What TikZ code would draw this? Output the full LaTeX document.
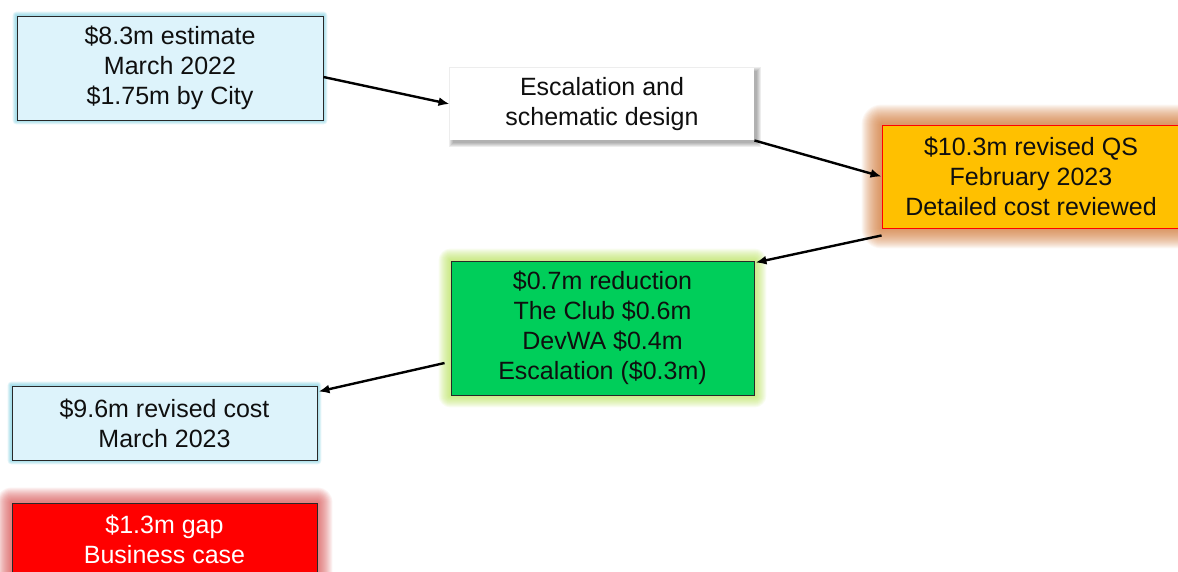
\documentclass[tikz,border=0pt]{standalone}
\usepackage{fontspec}
\setmainfont{Liberation Sans}
\usetikzlibrary{calc,backgrounds,arrows.meta}
\definecolor{lblue}{RGB}{221,243,251}
\definecolor{qsorange}{RGB}{255,192,0}
\definecolor{rgreen}{RGB}{0,206,90}
\definecolor{gapred}{RGB}{255,0,0}
\definecolor{boxline}{RGB}{40,40,40}
\definecolor{txt}{RGB}{15,15,15}
\definecolor{glowcyan}{RGB}{70,185,210}
\definecolor{gloworange}{RGB}{205,110,40}
\definecolor{glowgreen}{RGB}{175,222,70}
\definecolor{glowred}{RGB}{210,60,60}
\tikzset{
  stagebox/.style={rectangle, inner sep=0pt, align=center, text=txt,
    font=\fontsize{25}{30}\selectfont, line width=0.9pt},
  flow/.style={line width=2.4pt, draw=black, -{Latex[length=11pt,width=9pt]}},
}
\newcommand{\nodeglow}[4]{%
  \foreach \r in {1,...,#3}{%
    \fill[#2, opacity=#4, rounded corners=\r pt]
      ($(#1.north west)+(-\r,-\r)$) rectangle ($(#1.south east)+(\r,\r)$);
  }%
}
\begin{document}
\begin{tikzpicture}[x=1pt,y=-1pt]
\useasboundingbox (0,0) rectangle (1178,571);
\clip (0,0) rectangle (1178,571);

\node[stagebox, fill=lblue, draw=boxline, minimum width=306pt, minimum height=104pt] (b1) at (170,68)
  {\$8.3m estimate\\March 2022\\\$1.75m by City};
\node[stagebox, fill=white, minimum width=304pt, minimum height=72pt] (b2) at (602,104)
  {Escalation and\\schematic design};
\node[stagebox, fill=qsorange, draw=gapred, minimum width=298pt, minimum height=103pt] (b3) at (1031,176.5)
  {\$10.3m revised QS\\February 2023\\Detailed cost reviewed};
\node[stagebox, fill=rgreen, draw=boxline, minimum width=303pt, minimum height=134pt] (b4) at (602.5,328)
  {\$0.7m reduction\\The Club \$0.6m\\DevWA \$0.4m\\Escalation (\$0.3m)};
\node[stagebox, fill=lblue, draw=boxline, minimum width=305pt, minimum height=74pt] (b5) at (164.5,423)
  {\$9.6m revised cost\\March 2023};
\node[stagebox, fill=gapred, draw=boxline, text=white, minimum width=305pt, minimum height=72pt] (b6) at (164.5,539)
  {\$1.3m gap\\Business case};

\begin{scope}[on background layer]
  \nodeglow{b1}{glowcyan}{4}{0.15}
  \nodeglow{b5}{glowcyan}{4}{0.15}
  \nodeglow{b3}{gloworange}{20}{0.06}
  \nodeglow{b4}{glowgreen}{12}{0.08}
  \nodeglow{b6}{glowred}{15}{0.065}
  \foreach \r in {0,1,2,3,4}{%
    \fill[black, opacity=0.07]
      ($(b2.north west)+(3-\r,3-\r)$) rectangle ($(b2.south east)+(3+\r,3+\r)$);
  }
\end{scope}

\draw[flow] ($(b1.east)+(0,9)$) -- (b2.west);
\draw[flow] (b2.south east) -- (b3.west);
\draw[flow] ($(b3.south west)+(0,7)$) -- ($(b4.north east)+(1,2)$);
\draw[flow] ($(b4.west)+(-6,35)$) -- ($(b5.north east)+(1,6)$);
\end{tikzpicture}
\end{document}
